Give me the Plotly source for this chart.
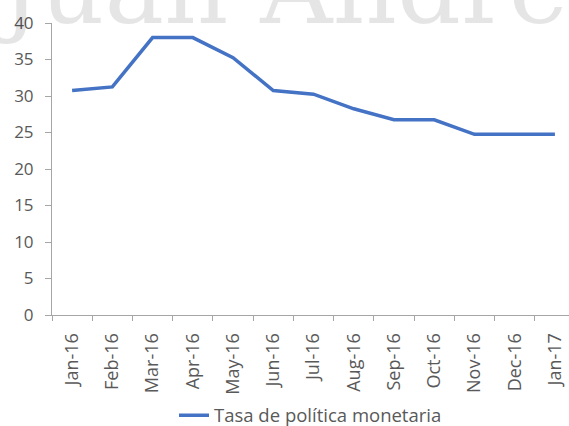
import plotly.graph_objects as go

months = ["Jan-16", "Feb-16", "Mar-16", "Apr-16", "May-16", "Jun-16", "Jul-16",
          "Aug-16", "Sep-16", "Oct-16", "Nov-16", "Dec-16", "Jan-17"]
rate = [30.75, 31.25, 38.0, 38.0, 35.25, 30.75, 30.25, 28.25, 26.75, 26.75, 24.75, 24.75, 24.75]
series_name = "Tasa de política monetaria"
y_ticks = [0, 5, 10, 15, 20, 25, 30, 35, 40]
watermark = "Juan Andrés"

idx = list(range(len(months)))
axis_color = "#a6a6a6"
text_color = "#595959"
font_family = "Open Sans, Noto Sans, sans-serif"

fig = go.Figure()
fig.add_trace(go.Scatter(
    x=idx, y=rate, mode="lines", name=series_name,
    line=dict(color="#4472C4", width=3.5),
))

fig.update_layout(
    width=569, height=426,
    margin=dict(l=52, r=0, t=23, b=111, autoexpand=False),
    paper_bgcolor="white", plot_bgcolor="white",
    font=dict(family=font_family, color=text_color, size=15),
    showlegend=True,
    legend=dict(orientation="h", x=0.5, xref="paper", xanchor="center",
                y=-0.345, yanchor="middle", font=dict(size=18.5, color=text_color)),
    xaxis=dict(
        range=[-0.5, 12.35], tickmode="array", tickvals=idx, ticktext=months,
        tickangle=-90, ticks="", showgrid=False, zeroline=False,
        showline=True, linecolor=axis_color, linewidth=1, automargin=False,
        tickfont=dict(size=18, color=text_color), ticklabelstandoff=10,
        minor=dict(tick0=-0.5, dtick=1, ticks="outside", ticklen=5,
                   tickcolor=axis_color, showgrid=False),
    ),
    yaxis=dict(
        range=[0, 40], tickmode="array", tickvals=y_ticks,
        ticks="outside", ticklen=6, tickcolor=axis_color,
        showgrid=False, zeroline=False, showline=True, automargin=False,
        linecolor=axis_color, linewidth=1,
        tickfont=dict(size=17, color=text_color), ticklabelstandoff=8,
    ),
)

# faint translucent watermark, partly cut off at the top
fig.add_annotation(
    text=watermark, xref="paper", yref="paper", x=-0.122, y=1.0,
    xanchor="left", yanchor="bottom", yshift=-26, showarrow=False,
    font=dict(family="DejaVu Serif, serif", size=100, color="rgba(0,0,0,0.1)"),
)

fig.write_html("out.html")
